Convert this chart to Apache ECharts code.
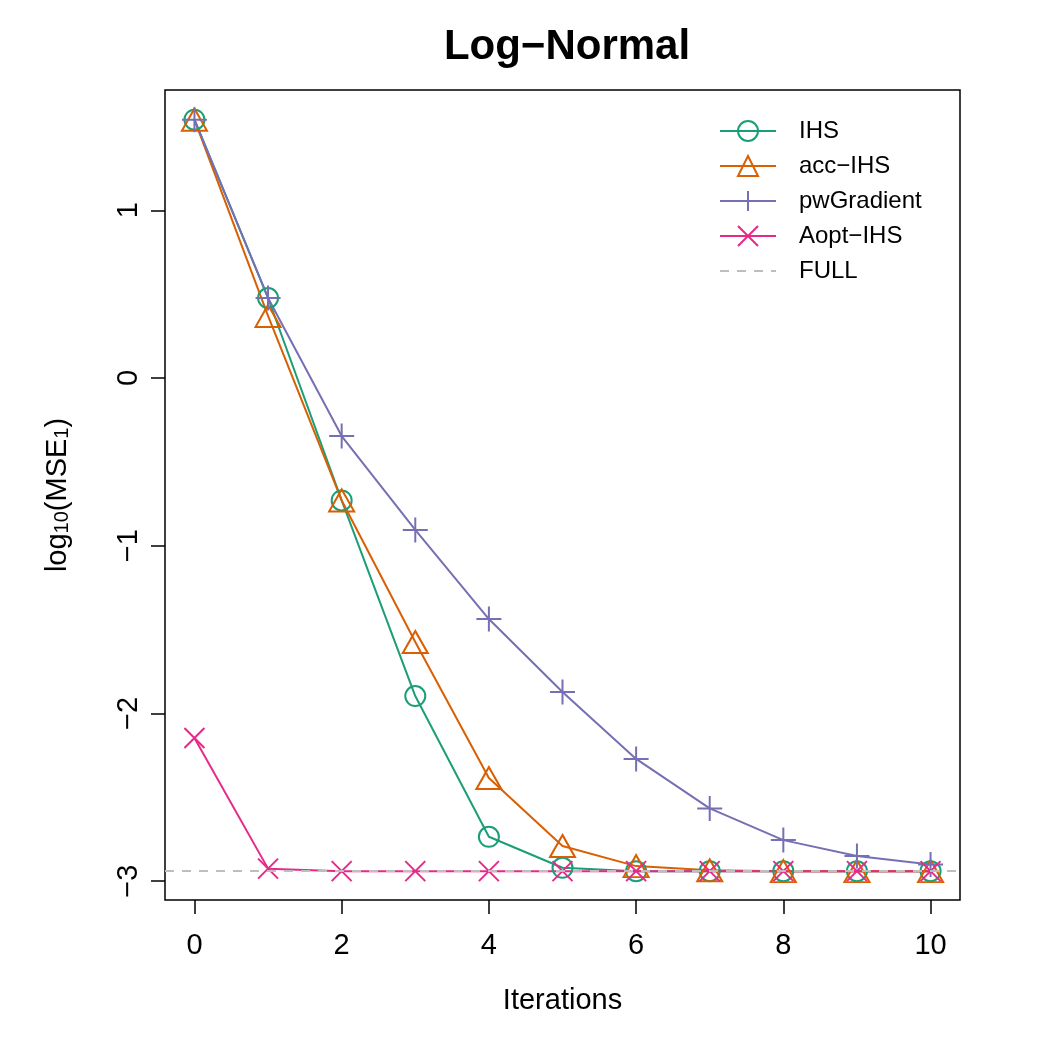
<!DOCTYPE html>
<html>
<head>
<meta charset="utf-8">
<script src="https://cdn.jsdelivr.net/npm/echarts@6/dist/echarts.min.js"></script>
<style>
  html, body { margin: 0; padding: 0; background: #fff; }
  #chart { width: 1050px; height: 1050px; }
</style>
</head>
<body>
<div id="chart"></div>
<script>
// data
let iterations = [0, 1, 2, 3, 4, 5, 6, 7, 8, 9, 10]
let ihs = [1.54, 0.477, -0.73, -1.896, -2.735, -2.92, -2.94, -2.94, -2.94, -2.94, -2.94]
let accIhs = [1.54, 0.37, -0.73, -1.574, -2.385, -2.79, -2.91, -2.935, -2.94, -2.94, -2.94]
let pwGradient = [1.54, 0.477, -0.346, -0.906, -1.437, -1.872, -2.271, -2.566, -2.755, -2.85, -2.90]
let aoptIhs = [-2.146, -2.925, -2.94, -2.94, -2.94, -2.94, -2.94, -2.94, -2.94, -2.94, -2.94]
let fullLevel = -2.94
let xTicks = [0, 2, 4, 6, 8, 10]
let yTicks = [-3, -2, -1, 0, 1]

const FONT = 'Liberation Sans'
const minus = v => (v < 0 ? '\u2212' + Math.abs(v) : String(v))
const pairs = ys => iterations.map((x, i) => [x, ys[i]])

const CIRCLE = 'path://M1,0A1,1 0 1 1 -1,0A1,1 0 1 1 1,0Z'
const TRIANGLE = 'path://M0,-1L0.866,0.5L-0.866,0.5Z'
const PLUS = 'path://M0,-1L0,1M-1,0L1,0'
const CROSS = 'path://M-1,-1L1,1M-1,1L1,-1'

function mkSeries(name, ys, color, symbol, size) {
  return {
    name: name,
    type: 'line',
    data: pairs(ys),
    symbol: symbol,
    symbolSize: size,
    showAllSymbol: true,
    lineStyle: { color: color, width: 2 },
    itemStyle: { color: 'transparent', borderColor: color, borderWidth: 2 },
    emphasis: { disabled: true },
    animation: false
  }
}

let oChart = echarts.init(document.getElementById('chart'))
oChart.setOption({
  backgroundColor: '#fff',
  animation: false,
  title: {
    text: 'Log\u2212Normal',
    left: 562,
    top: 21,
    textAlign: 'center',
    textStyle: { fontFamily: FONT, fontWeight: 'bold', fontSize: 42, color: '#000' }
  },
  legend: {
    orient: 'vertical',
    left: 714,
    top: 114,
    itemWidth: 56,
    itemHeight: 25,
    itemGap: 11,
    data: ['IHS', 'acc-IHS', 'pwGradient', 'Aopt-IHS', 'FULL'],
    formatter: n => n.replace('-', '\u2212'),
    textStyle: { fontFamily: FONT, fontSize: 24, color: '#000', padding: [0, 0, 0, 18] }
  },
  grid: {
    left: 165, right: 90, top: 90, bottom: 150,
    show: true, borderColor: '#000', borderWidth: 1.5, backgroundColor: 'transparent'
  },
  xAxis: {
    type: 'value',
    min: -0.4, max: 10.4,
    name: 'Iterations',
    nameLocation: 'middle',
    nameGap: 86,
    nameTextStyle: { fontFamily: FONT, fontSize: 29, color: '#000' },
    axisLine: { show: false, onZero: false },
    axisTick: { show: true, customValues: xTicks, length: 14, inside: false, lineStyle: { color: '#000', width: 1.5 } },
    axisLabel: { customValues: xTicks, margin: 31, fontFamily: FONT, fontSize: 29, color: '#000' },
    splitLine: { show: false }
  },
  yAxis: {
    type: 'value',
    min: -3.112, max: 1.717,
    name: '{a|log}{s|10}{a|(MSE}{s|1}{a|)}',
    nameLocation: 'middle',
    nameRotate: 90,
    nameGap: 93,
    nameTextStyle: {
      rich: {
        a: { fontFamily: FONT, fontSize: 29, color: '#000', verticalAlign: 'bottom', lineHeight: 34 },
        s: { fontFamily: FONT, fontSize: 20, color: '#000', verticalAlign: 'bottom', lineHeight: 34, padding: [14, 0, 0, 0] }
      }
    },
    axisLine: { show: false, onZero: false },
    axisTick: { show: true, customValues: yTicks, length: 14, inside: false, lineStyle: { color: '#000', width: 1.5 } },
    axisLabel: { customValues: yTicks, rotate: 90, margin: 22, fontFamily: FONT, fontSize: 29, color: '#000', formatter: minus },
    splitLine: { show: false }
  },
  series: [
    mkSeries('IHS', ihs, '#1B9E77', CIRCLE, 20),
    mkSeries('acc-IHS', accIhs, '#D95F02', TRIANGLE, [25, 22]),
    mkSeries('pwGradient', pwGradient, '#7570B3', PLUS, 25),
    mkSeries('Aopt-IHS', aoptIhs, '#E7298A', CROSS, 20),
    {
      name: 'FULL',
      type: 'line',
      data: [],
      symbol: 'circle',
      symbolSize: 0,
      lineStyle: { color: '#BEBEBE', width: 2, type: [9, 8] },
      itemStyle: { color: 'transparent', borderWidth: 0 },
      markLine: {
        silent: true,
        symbol: 'none',
        label: { show: false },
        lineStyle: { color: '#BEBEBE', width: 2, type: [9, 8] },
        data: [{ yAxis: fullLevel }]
      },
      animation: false
    }
  ]
})
</script>
</body>
</html>
